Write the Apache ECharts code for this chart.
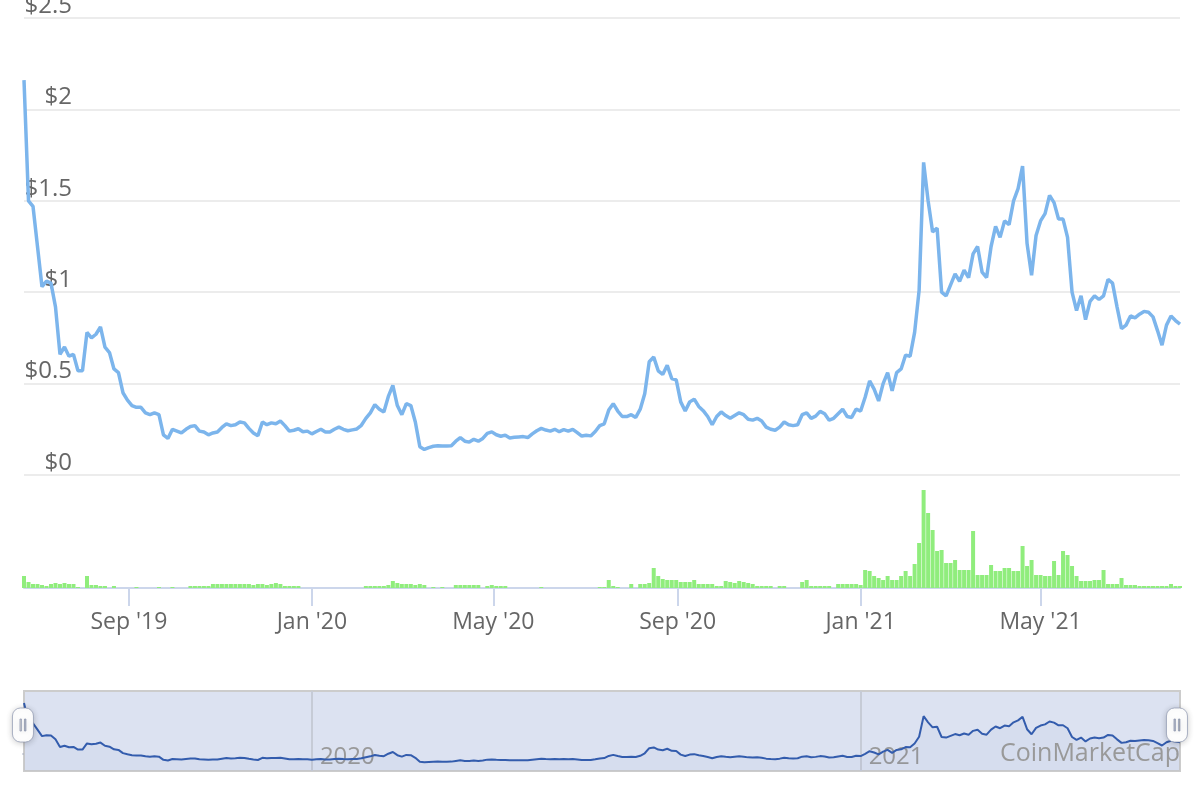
<!DOCTYPE html>
<html>
<head>
<meta charset="utf-8">
<script src="https://cdn.jsdelivr.net/npm/echarts@6/dist/echarts.min.js"></script>
<style>
  html, body { margin: 0; padding: 0; background: #fff; }
  #main { width: 1200px; height: 800px; }
</style>
</head>
<body>
<div id="main"></div>
<script>
// one point every 3 days from the start date
var startDate = '2019-06-23';
var stepDays = 3;

var prices = [
  2.16, 1.50, 1.47, 1.25, 1.03, 1.06, 1.05, 0.92, 0.66, 0.70,
  0.65, 0.66, 0.57, 0.57, 0.78, 0.75, 0.77, 0.81, 0.70, 0.67,
  0.58, 0.56, 0.45, 0.41, 0.38, 0.37, 0.37, 0.34, 0.33, 0.34,
  0.33, 0.22, 0.20, 0.25, 0.24, 0.23, 0.25, 0.265, 0.27, 0.24,
  0.235, 0.22, 0.23, 0.235, 0.26, 0.28, 0.27, 0.275, 0.29, 0.285,
  0.255, 0.23, 0.215, 0.29, 0.275, 0.285, 0.28, 0.295, 0.27, 0.24,
  0.245, 0.253, 0.237, 0.24, 0.225, 0.238, 0.25, 0.235, 0.235, 0.25,
  0.262, 0.25, 0.242, 0.247, 0.252, 0.272, 0.31, 0.34, 0.385, 0.36,
  0.345, 0.43, 0.49, 0.38, 0.33, 0.39, 0.38, 0.29, 0.155, 0.14,
  0.15, 0.157, 0.16, 0.158, 0.158, 0.16, 0.185, 0.205, 0.185, 0.18,
  0.195, 0.185, 0.2, 0.228, 0.236, 0.22, 0.212, 0.218, 0.203, 0.206,
  0.208, 0.21, 0.205, 0.225, 0.242, 0.255, 0.246, 0.24, 0.25, 0.237,
  0.248, 0.24, 0.25, 0.232, 0.213, 0.217, 0.214, 0.238, 0.27, 0.28,
  0.355, 0.39, 0.35, 0.32, 0.32, 0.33, 0.315, 0.36, 0.445, 0.62,
  0.645, 0.57, 0.55, 0.60, 0.528, 0.52, 0.40, 0.35, 0.40, 0.415,
  0.375, 0.352, 0.32, 0.275, 0.32, 0.345, 0.325, 0.31, 0.325, 0.34,
  0.33, 0.305, 0.30, 0.31, 0.295, 0.262, 0.25, 0.245, 0.262, 0.29,
  0.275, 0.27, 0.275, 0.33, 0.34, 0.31, 0.322, 0.348, 0.335, 0.30,
  0.31, 0.335, 0.36, 0.32, 0.315, 0.36, 0.35, 0.425, 0.515, 0.47,
  0.405, 0.50, 0.56, 0.46, 0.56, 0.58, 0.656, 0.65, 0.78, 1.01,
  1.71, 1.50, 1.33, 1.35, 1.0, 0.98, 1.04, 1.10, 1.06, 1.12,
  1.08, 1.21, 1.25, 1.11, 1.08, 1.25, 1.36, 1.30, 1.39, 1.37,
  1.50, 1.567, 1.69, 1.266, 1.093, 1.31, 1.39, 1.43, 1.53, 1.49,
  1.40, 1.40, 1.30, 1.0, 0.90, 0.98, 0.85, 0.95, 0.98, 0.96,
  0.98, 1.07, 1.05, 0.92, 0.80, 0.82, 0.87, 0.86, 0.88, 0.895,
  0.89, 0.865, 0.79, 0.71, 0.82, 0.87, 0.845, 0.825
];

// volume, millions (no axis shown in the original)
var volumes = [
  12, 6, 4, 4, 3, 2, 4, 5, 4, 5,
  4, 4, 1, 0, 12, 3, 3, 2, 2, 0,
  2, 0, 0, 0, 0, 1, 0, 0, 0, 0,
  1, 0, 0, 1, 0, 0, 0, 2, 2, 2,
  2, 2, 4, 4, 4, 4, 4, 4, 4, 4,
  4, 3, 4, 4, 3, 4, 5, 4, 2, 2,
  2, 2, 0, 0, 0, 0, 0, 0, 0, 0,
  0, 0, 0, 0, 0, 0, 2, 2, 2, 2,
  2, 3, 7, 5, 4, 4, 4, 3, 4, 3,
  0, 1, 0, 1, 0, 0, 3, 3, 3, 3,
  3, 3, 0, 2, 3, 2, 2, 2, 0, 0,
  0, 0, 0, 0, 0, 1, 0, 0, 0, 0,
  0, 0, 0, 0, 0, 0, 0, 0, 1, 1,
  8, 2, 1, 0, 0, 4, 0, 4, 4, 5,
  20, 12, 9, 8, 8, 8, 6, 6, 6, 8,
  4, 4, 4, 4, 2, 2, 7, 6, 5, 7,
  6, 5, 4, 2, 2, 2, 2, 0, 2, 2,
  0, 0, 0, 6, 8, 2, 2, 2, 2, 2,
  0, 4, 4, 4, 4, 4, 3, 18, 17, 12,
  10, 8, 12, 8, 8, 12, 17, 12, 24, 45,
  98, 75, 58, 37, 38, 25, 25, 28, 18, 18,
  18, 57, 13, 13, 13, 23, 17, 17, 20, 20,
  17, 17, 42, 22, 28, 13, 13, 12, 12, 27,
  13, 37, 33, 22, 12, 7, 7, 7, 8, 8,
  18, 4, 4, 4, 10, 3, 3, 3, 2, 2,
  2, 2, 2, 2, 2, 4, 2, 2
];

var tickDates = ['2019-09-01', '2020-01-01', '2020-05-01', '2020-09-01', '2021-01-01', '2021-05-01'];
var tickLabels = ["Sep '19", "Jan '20", "May '20", "Sep '20", "Jan '21", "May '21"];
var yearDates = ['2020-01-01', '2021-01-01'];
var yearLabels = ['2020', '2021'];

var FONT = 'Open Sans';

function toTime(s) {
  var p = s.split('-');
  return Date.UTC(+p[0], +p[1] - 1, +p[2]);
}

var t0 = toTime(startDate);
var dates = prices.map(function (_, i) { return t0 + i * stepDays * 86400000; });
var tMin = dates[0];
var tMax = dates[dates.length - 1];

var priceData = prices.map(function (v, i) { return [dates[i], v]; });
var volumeData = volumes.map(function (v, i) { return [dates[i], v]; });

var tickTimes = tickDates.map(toTime);
var yearTimes = yearDates.map(toTime);

function labelFor(times, labels) {
  return function (v) {
    var i = times.indexOf(v);
    return i >= 0 ? labels[i] : '';
  };
}

var chart = echarts.init(document.getElementById('main'));

var option = {
  animation: false,
  backgroundColor: '#ffffff',
  title: {
    text: 'CoinMarketCap',
    right: 20,
    top: 741,
    padding: 0,
    z: 20,
    textStyle: { color: '#999999', fontSize: 25, fontWeight: 'normal', fontFamily: FONT }
  },
  grid: [
    { left: 24, right: 20, top: 18, height: 457, outerBoundsMode: 'none' },
    { left: 24, right: 20, top: 476, height: 112, outerBoundsMode: 'none' },
    {
      left: 24, right: 20, top: 691, height: 80, outerBoundsMode: 'none',
      show: true, backgroundColor: '#dce2f1', borderColor: '#cccccc', borderWidth: 2
    }
  ],
  xAxis: [
    { type: 'value', gridIndex: 0, min: tMin, max: tMax, show: false, splitLine: { show: false } },
    {
      type: 'value', gridIndex: 1, min: tMin, max: tMax,
      axisLine: { lineStyle: { color: '#ccd6eb', width: 2 } },
      axisTick: { show: true, customValues: tickTimes, length: 18, lineStyle: { color: '#ccd6eb', width: 2 } },
      axisLabel: {
        customValues: tickTimes,
        formatter: labelFor(tickTimes, tickLabels),
        color: '#666666', fontSize: 23, fontFamily: FONT, margin: 23
      },
      splitLine: { show: false }
    },
    {
      type: 'value', gridIndex: 2, min: tMin, max: tMax,
      axisLine: { show: false },
      axisTick: { show: false, customValues: yearTimes },
      axisLabel: {
        customValues: yearTimes,
        formatter: labelFor(yearTimes, yearLabels),
        inside: true, margin: 2, align: 'left', padding: [0, 0, 0, 8],
        color: '#999999', fontSize: 24, fontFamily: FONT
      },
      splitLine: { show: true, lineStyle: { color: '#c6cbd6', width: 2 } }
    }
  ],
  yAxis: [
    {
      type: 'value', gridIndex: 0, min: 0, max: 2.5, interval: 0.5,
      axisLine: { show: false },
      axisTick: { show: false },
      axisLabel: {
        inside: true, align: 'right', verticalAlign: 'bottom', margin: 48,
        formatter: function (v) { return '$' + v; },
        color: '#666666', fontSize: 24, fontFamily: FONT
      },
      splitLine: { lineStyle: { color: '#e6e6e6', width: 1.5 } }
    },
    { type: 'value', gridIndex: 1, min: 0, max: 112, show: false },
    { type: 'value', gridIndex: 2, min: -0.16, max: 2.57, show: false }
  ],
  dataZoom: [{
    type: 'slider',
    xAxisIndex: [0, 1],
    start: 0, end: 100,
    left: 21, right: 23, top: 691, height: 80,
    backgroundColor: 'rgba(0,0,0,0)',
    borderColor: 'rgba(0,0,0,0)',
    borderRadius: 0,
    fillerColor: 'rgba(0,0,0,0)',
    showDataShadow: false,
    showDetail: false,
    brushSelect: false,
    moveHandleSize: 0,
    // rounded grip; the extra point keeps it a few px above centre
    handleIcon: 'path://M8,0 H13 A8,8 0 0 1 21,8 V26 A8,8 0 0 1 13,34 H8 A8,8 0 0 1 0,26 V8 A8,8 0 0 1 8,0 Z M7.5,11 V23 H9 V11 Z M12,11 V23 H13.5 V11 Z M10,-12 L11,-12 Z',
    handleSize: 46,
    handleStyle: {
      color: '#ffffff', borderColor: 'rgba(140,150,175,0.7)', borderWidth: 1,
      shadowBlur: 6, shadowColor: 'rgba(0,0,0,0.2)', shadowOffsetY: 1
    },
    emphasis: { handleStyle: { color: '#ffffff', borderColor: 'rgba(140,150,175,0.7)', borderWidth: 1 } }
  }],
  series: [
    {
      name: 'Price',
      type: 'line',
      xAxisIndex: 0, yAxisIndex: 0,
      data: priceData,
      showSymbol: false,
      lineStyle: { color: '#7cb5ec', width: 3.5 },
      itemStyle: { color: '#7cb5ec' },
      z: 3
    },
    {
      name: 'Volume',
      type: 'bar',
      xAxisIndex: 1, yAxisIndex: 1,
      data: volumeData,
      barWidth: 4,
      itemStyle: { color: '#90ed7d' }
    },
    {
      name: 'Navigator',
      type: 'line',
      xAxisIndex: 2, yAxisIndex: 2,
      data: priceData,
      showSymbol: false,
      silent: true,
      lineStyle: { color: '#335cad', width: 2 },
      areaStyle: { color: 'rgba(51,92,173,0.05)', origin: 'start' }
    }
  ]
};

chart.setOption(option);
</script>
</body>
</html>
